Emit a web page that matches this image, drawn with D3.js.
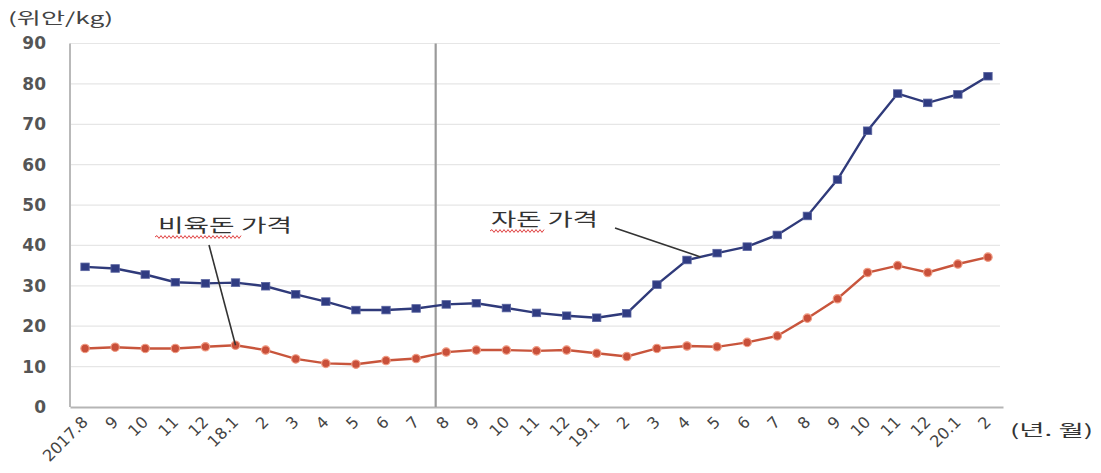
<!DOCTYPE html>
<html>
<head>
<meta charset="utf-8">
<script src="https://cdn.jsdelivr.net/npm/d3@7"></script>
<style>
  html, body { margin: 0; padding: 0; background: #fff; }
  svg { display: block; }
</style>
</head>
<body>
<div id="chart"></div>
<script>
// Monthly categories, Aug 2017 – Feb 2020
const months = ["2017.8","9","10","11","12","18.1","2","3","4","5","6","7",
                "8","9","10","11","12","19.1","2","3","4","5","6","7",
                "8","9","10","11","12","20.1","2"];

// 자돈 (piglet) price, yuan/kg
const pigletPrice = [34.7, 34.3, 32.8, 30.9, 30.6, 30.8, 29.9, 27.9, 26.1, 24.0, 24.0, 24.4,
                     25.4, 25.7, 24.5, 23.3, 22.6, 22.1, 23.2, 30.3, 36.4, 38.1, 39.7, 42.6,
                     47.3, 56.3, 68.4, 77.6, 75.3, 77.4, 81.9];

// 비육돈 (finishing hog) price, yuan/kg
const hogPrice = [14.5, 14.8, 14.5, 14.5, 14.9, 15.3, 14.1, 11.9, 10.8, 10.6, 11.5, 12.0,
                  13.6, 14.1, 14.1, 13.9, 14.1, 13.3, 12.5, 14.5, 15.1, 14.9, 16.0, 17.6,
                  22.0, 26.8, 33.3, 35.0, 33.3, 35.4, 37.1];

const yTicks = [0, 10, 20, 30, 40, 50, 60, 70, 80, 90];

// divider drawn at the start of Aug 2018
const dividerIndex = 12;

const W = 1101, H = 473;
const plotLeft = 70, plotRight = 1003, plotTop = 43.5, plotBottom = 407;
const krFont = "'Noto Sans CJK KR', sans-serif";

const svg = d3.select("#chart").append("svg")
  .attr("width", W).attr("height", H)
  .attr("viewBox", `0 0 ${W} ${H}`);

svg.append("rect").attr("width", W).attr("height", H).attr("fill", "#fff");

const x = d3.scaleBand().domain(d3.range(months.length)).range([plotLeft, plotRight]);
const cx = i => x(i) + x.bandwidth() / 2;
const y = d3.scaleLinear().domain([0, 90]).range([plotBottom, plotTop]);

// horizontal gridlines
svg.append("g").selectAll("line")
  .data(yTicks.filter(d => d > 0))
  .join("line")
  .attr("x1", plotLeft).attr("x2", 1000)
  .attr("y1", d => y(d)).attr("y2", d => y(d))
  .attr("stroke", "#e6e6e6").attr("stroke-width", 1.2);

// y axis
const yAxis = d3.axisLeft(y).tickValues(yTicks).tickSize(0).tickPadding(24);
const gy = svg.append("g").attr("transform", `translate(${plotLeft},0)`).call(yAxis);
gy.select(".domain").remove();
gy.selectAll("text")
  .attr("font-family", "'DejaVu Sans', sans-serif")
  .attr("font-size", 17).attr("font-weight", "bold")
  .attr("fill", "#555");

svg.append("line")
  .attr("x1", plotLeft).attr("x2", plotLeft).attr("y1", plotTop).attr("y2", plotBottom)
  .attr("stroke", "#b9b9b9").attr("stroke-width", 2);

// x axis
const xAxis = d3.axisBottom(x).tickFormat(i => months[i]).tickSize(0);
const gx = svg.append("g").attr("transform", `translate(0,${plotBottom})`).call(xAxis);
gx.select(".domain").attr("stroke", "#b5b5b5").attr("stroke-width", 2);
gx.selectAll(".tick text")
  .attr("font-family", "'DejaVu Sans', sans-serif")
  .attr("font-size", 16).attr("fill", "#444")
  .attr("text-anchor", "end")
  .attr("dy", 0).attr("y", 0)
  .attr("transform", "translate(4,16) rotate(-45)");

// period divider
svg.append("line")
  .attr("x1", x(dividerIndex) + x.bandwidth() * 0.15)
  .attr("x2", x(dividerIndex) + x.bandwidth() * 0.15)
  .attr("y1", plotTop).attr("y2", plotBottom)
  .attr("stroke", "#9a9a9a").attr("stroke-width", 2.2);

// series
const line = d3.line().x((d, i) => cx(i)).y(d => y(d));

svg.append("path").datum(hogPrice)
  .attr("d", line).attr("fill", "none")
  .attr("stroke", "#c8553c").attr("stroke-width", 2.4);
svg.append("g").selectAll("circle").data(hogPrice).join("circle")
  .attr("cx", (d, i) => cx(i)).attr("cy", d => y(d)).attr("r", 4.2)
  .attr("fill", "#c9503a").attr("stroke", "#ef9a82").attr("stroke-width", 1.2);

svg.append("path").datum(pigletPrice)
  .attr("d", line).attr("fill", "none")
  .attr("stroke", "#2f3a7a").attr("stroke-width", 2.4);
svg.append("g").selectAll("rect").data(pigletPrice).join("rect")
  .attr("x", (d, i) => cx(i) - 4.2).attr("y", d => y(d) - 3.8)
  .attr("width", 8.4).attr("height", 7.6)
  .attr("fill", "#303c82").attr("stroke", "#5a64a0").attr("stroke-width", 0.8);

// unit labels (glyphs widened to the chart's stretched lettering)
svg.append("text").text("(위안/kg)")
  .attr("x", 8).attr("y", 24)
  .attr("font-family", krFont).attr("font-size", 16)
  .attr("fill", "#444").attr("textLength", 105).attr("lengthAdjust", "spacingAndGlyphs");

svg.append("text").text("(년. 월)")
  .attr("x", 1010).attr("y", 436)
  .attr("font-family", krFont).attr("font-size", 16)
  .attr("fill", "#333").attr("textLength", 83).attr("lengthAdjust", "spacingAndGlyphs");

// wavy underline helper
function squiggle(x0, x1, yy) {
  const p = d3.path();
  p.moveTo(x0, yy);
  let up = true;
  for (let xx = x0 + 2; xx <= x1; xx += 2) {
    p.lineTo(xx, yy + (up ? -1.4 : 1.4));
    up = !up;
  }
  return p.toString();
}

// series callouts
const hogIdx = 5;
svg.append("text").text("비육돈 가격")
  .attr("x", 158).attr("y", 232)
  .attr("font-family", krFont).attr("font-size", 18)
  .attr("fill", "#333").attr("textLength", 134).attr("lengthAdjust", "spacingAndGlyphs");
svg.append("path").attr("d", squiggle(155, 242, 237))
  .attr("fill", "none").attr("stroke", "#e04040").attr("stroke-width", 1);
svg.append("line")
  .attr("x1", 209).attr("y1", 245)
  .attr("x2", cx(hogIdx)).attr("y2", y(hogPrice[hogIdx]))
  .attr("stroke", "#333").attr("stroke-width", 1.6);

const pigIdx = 20, t = 0.45;
svg.append("text").text("자돈 가격")
  .attr("x", 491).attr("y", 226)
  .attr("font-family", krFont).attr("font-size", 18)
  .attr("fill", "#333").attr("textLength", 107).attr("lengthAdjust", "spacingAndGlyphs");
svg.append("path").attr("d", squiggle(490, 545, 231))
  .attr("fill", "none").attr("stroke", "#e04040").attr("stroke-width", 1);
svg.append("line")
  .attr("x1", 615).attr("y1", 228)
  .attr("x2", cx(pigIdx) + t * x.bandwidth())
  .attr("y2", y(pigletPrice[pigIdx] + t * (pigletPrice[pigIdx + 1] - pigletPrice[pigIdx])))
  .attr("stroke", "#333").attr("stroke-width", 1.6);
</script>
</body>
</html>
